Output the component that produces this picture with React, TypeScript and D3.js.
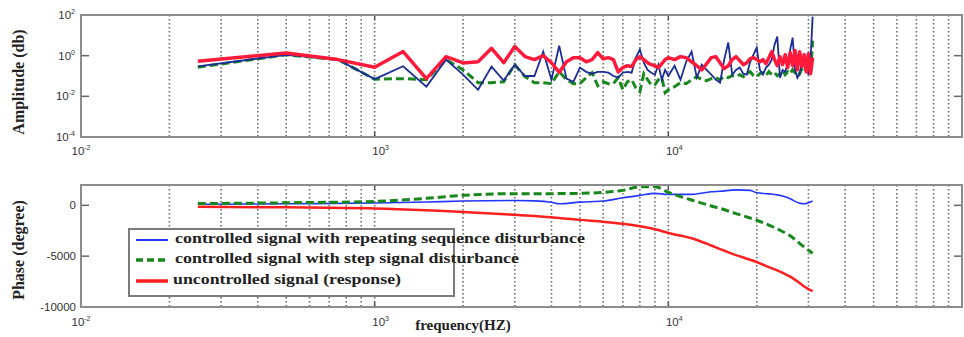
import React, { useEffect, useRef } from 'react';
import * as d3 from 'd3';

// amplitude spectrum, sampled every 250 Hz up to 10 kHz, then every 500 Hz
const ampFreqs = [
  250, 500, 750, 1000, 1250, 1500, 1750, 2000, 2250, 2500,
  2750, 3000, 3250, 3500, 3750, 4000, 4250, 4500, 4750, 5000,
  5250, 5500, 5750, 6000, 6250, 6500, 6750, 7000, 7250, 7500,
  7750, 8000, 8250, 8500, 8750, 9000, 9250, 9500, 9750, 10000,
  10500, 11000, 11500, 12000, 12500, 13000, 13500, 14000, 14500, 15000,
  15500, 16000, 16500, 17000, 17500, 18000, 18500, 19000, 19500, 20000,
  20500, 21000, 21500, 22000, 22500, 23000, 23500, 24000, 24500, 25000,
  25500, 26000, 26500, 27000, 27500, 28000, 28500, 29000, 29500, 30000,
  30500, 31000,
];
const ampRepeating = [
  0.3, 1.1, 0.64, 0.07, 0.3, 0.03, 0.64, 0.116, 0.021, 0.29,
  0.06, 0.36, 0.1, 0.1, 1.57, 0.066, 3.1, 0.074, 0.052, 0.26,
  0.16, 0.13, 0.16, 0.16, 0.145, 0.1, 0.083, 0.145, 0.16, 0.145,
  0.8, 2.0, 0.45, 0.2, 0.145, 0.116, 0.36, 0.066, 0.2, 0.1,
  0.32, 0.066, 0.5, 1.57, 0.083, 0.36, 0.2, 0.116, 0.066, 0.047,
  0.64, 4.4, 0.116, 0.2, 0.26, 0.13, 0.116, 0.5, 1.12, 2.5,
  0.2, 0.116, 0.26, 0.36, 0.64, 3.5, 8.6, 0.083, 0.2, 0.16,
  0.4, 2.0, 7.7, 0.2, 0.083, 0.13, 0.5, 0.8, 0.32, 0.116,
  0.64, 83,
];
const ampStep = [
  0.27, 1.1, 0.64, 0.07, 0.074, 0.066, 0.64, 0.2, 0.047, 0.047,
  0.052, 0.36, 0.093, 0.047, 0.047, 0.042, 0.163, 0.066, 0.042, 0.042,
  0.083, 0.145, 0.033, 0.052, 0.042, 0.042, 0.083, 0.021, 0.052, 0.066,
  0.026, 0.017, 0.13, 0.066, 0.037, 0.037, 0.066, 0.083, 0.015, 0.021,
  0.03, 0.047, 0.042, 0.066, 0.093, 0.066, 0.059, 0.074, 0.083, 0.066,
  0.093, 0.083, 0.104, 0.093, 0.116, 0.093, 0.13, 0.163, 0.104, 0.093,
  0.13, 0.145, 0.104, 0.163, 0.116, 0.145, 0.104, 0.13, 0.18, 0.116,
  0.163, 0.13, 0.205, 0.145, 0.18, 0.13, 0.23, 0.163, 0.26, 0.18,
  0.145, 5.5,
];
const ampUncontrolled = [
  0.53, 1.35, 0.64, 0.27, 1.6, 0.074, 0.89, 0.44, 0.5, 2.3,
  0.45, 2.8, 0.9, 0.64, 1.0, 0.45, 0.15, 0.5, 0.8, 0.8,
  0.5, 0.64, 1.4, 0.7, 0.8, 0.64, 0.16, 0.26, 0.32, 0.29,
  0.64, 0.9, 0.64, 0.45, 0.36, 0.32, 0.26, 0.4, 0.64, 0.8,
  0.64, 0.9, 0.8, 0.5, 0.32, 0.2, 0.4, 0.8, 0.9, 0.45,
  0.23, 0.32, 0.64, 0.9, 0.57, 0.36, 0.45, 0.71, 0.8, 0.64,
  0.5, 0.64, 0.4, 0.8, 1.57, 0.64, 0.32, 0.9, 0.36, 1.12,
  0.26, 1.4, 0.32, 1.8, 0.2, 1.57, 0.29, 1.12, 0.16, 1.25,
  0.13, 0.8,
];

// phase response (degree)
const phaseFreqs = [
  250, 500, 1000, 1500, 2000, 3000, 3500, 4000, 4250, 5000,
  6000, 7000, 8000, 9000, 10000, 12000, 14000, 15000, 17000, 19000,
  20000, 22000, 24000, 25000, 26000, 28000, 29000, 31000,
];
const phaseRepeating = [
  100, 150, 230, 330, 420, 470, 440, 300, 150, 320,
  420, 740, 980, 1180, 1080, 1080, 1330, 1380, 1520, 1470,
  1230, 1130, 980, 850, 640, 200, 150, 420,
];
const phaseStep = [
  170, 250, 390, 690, 980, 1150, 1150, 1150, 1160, 1180,
  1280, 1470, 1820, 1840, 1280, 520, -60, -300, -810, -1250,
  -1470, -1950, -2450, -2720, -3000, -3750, -4100, -4720,
];
const phaseUncontrolled = [
  -150, -200, -300, -480, -660, -930, -1050, -1180, -1240, -1430,
  -1620, -1820, -2060, -2350, -2720, -3240, -3950, -4300, -4900, -5350,
  -5570, -6080, -6520, -6760, -7020, -7650, -7980, -8450,
];

const ampTicks = [100, 1, 0.01, 0.0001];
const ampTickExp = ['2', '0', '-2', '-4'];
const phaseTicks = [0, -5000, -10000];
const freqTicks = [100, 1000, 10000];
const freqTickExp = ['-2', '3', '4'];
const legendLabels = [
  'controlled signal with repeating sequence disturbance',
  'controlled signal with step signal disturbance',
  'uncontrolled signal (response)',
];

const W = 964;
const H = 337;
const L = 81;
const R = 962;
const SERIF = '"Liberation Serif", "DejaVu Serif", serif';
const SANS = '"Liberation Sans", Arial, sans-serif';

const App = () => {
  const ref = useRef<SVGSVGElement>(null);

  useEffect(() => {
    const svg = d3.select(ref.current);
    svg.selectAll('*').remove();

    const x = d3.scaleLog().domain([100, 100000]).range([L, R]);
    const yAmp = d3.scaleLog().domain([0.0001, 100]).range([137, 15]);
    const yPh = d3.scaleLinear().domain([-10000, 2000]).range([307, 185]);

    const gridVals: number[] = [];
    [100, 1000, 10000].forEach(d => {
      for (let k = 2; k <= 9; k++) gridVals.push(d * k);
      if (d > 100) gridVals.push(d);
    });

    const panel = (top: number, bottom: number) => {
      const g = svg.append('g');
      g.append('rect')
        .attr('x', L).attr('y', top)
        .attr('width', R - L).attr('height', bottom - top)
        .attr('fill', 'white');
      g.selectAll('line.grid')
        .data(gridVals)
        .enter()
        .append('line')
        .attr('x1', d => x(d)).attr('x2', d => x(d))
        .attr('y1', top).attr('y2', bottom)
        .attr('stroke', '#6a6a6a')
        .attr('stroke-width', 1.6)
        .attr('stroke-dasharray', '1.6,2.4');
      // decade ticks top & bottom
      [1000, 10000].forEach(v => {
        g.append('line').attr('x1', x(v)).attr('x2', x(v)).attr('y1', top).attr('y2', top + 5)
          .attr('stroke', '#555').attr('stroke-width', 1.5);
        g.append('line').attr('x1', x(v)).attr('x2', x(v)).attr('y1', bottom).attr('y2', bottom - 5)
          .attr('stroke', '#555').attr('stroke-width', 1.5);
      });
      return g;
    };

    const frame = (top: number, bottom: number) => {
      svg.append('rect')
        .attr('x', L).attr('y', top)
        .attr('width', R - L).attr('height', bottom - top)
        .attr('fill', 'none')
        .attr('stroke', '#8c8c8c')
        .attr('stroke-width', 2);
    };

    const xLabels = (yPos: number) => {
      freqTicks.forEach((v, i) => {
        const t = svg.append('text')
          .attr('x', x(v) + (i === 0 ? 0 : 6))
          .attr('y', yPos)
          .attr('text-anchor', 'middle')
          .style('font-family', SANS)
          .style('font-size', '11.5px')
          .style('fill', '#333');
        t.append('tspan').text('10');
        t.append('tspan').attr('dy', -5).style('font-size', '7px').text(freqTickExp[i]);
      });
    };

    // ---------- amplitude panel ----------
    panel(15, 137);
    ampTicks.forEach((v, i) => {
      svg.append('line').attr('x1', L).attr('x2', L + 8).attr('y1', yAmp(v)).attr('y2', yAmp(v))
        .attr('stroke', '#666').attr('stroke-width', 1.5);
      svg.append('line').attr('x1', R).attr('x2', R - 8).attr('y1', yAmp(v)).attr('y2', yAmp(v))
        .attr('stroke', '#666').attr('stroke-width', 1.5);
      const t = svg.append('text')
        .attr('x', 75).attr('y', yAmp(v) + 4)
        .attr('text-anchor', 'end')
        .style('font-family', SANS)
        .style('font-size', '11.5px')
        .style('fill', '#333');
      t.append('tspan').text('10');
      t.append('tspan').attr('dy', -5).style('font-size', '7px').text(ampTickExp[i]);
    });

    const ampLine = (vals: number[]) =>
      d3.line<number>().x((_, i) => x(ampFreqs[i])).y(d => yAmp(d))(vals);

    svg.append('path').attr('d', ampLine(ampStep)).attr('fill', 'none')
      .attr('stroke', '#18871c').attr('stroke-width', 3).attr('stroke-dasharray', '8,4');
    svg.append('path').attr('d', ampLine(ampRepeating)).attr('fill', 'none')
      .attr('stroke', '#1c2d96').attr('stroke-width', 1.8);
    svg.append('path').attr('d', ampLine(ampUncontrolled)).attr('fill', 'none')
      .attr('stroke', '#ff1a3c').attr('stroke-width', 3.5).attr('stroke-linejoin', 'round');
    frame(15, 137);
    xLabels(155);

    // ---------- phase panel ----------
    panel(185, 307);
    phaseTicks.forEach(v => {
      svg.append('line').attr('x1', L).attr('x2', L + 8).attr('y1', yPh(v)).attr('y2', yPh(v))
        .attr('stroke', '#666').attr('stroke-width', 1.5);
      svg.append('line').attr('x1', R).attr('x2', R - 8).attr('y1', yPh(v)).attr('y2', yPh(v))
        .attr('stroke', '#666').attr('stroke-width', 1.5);
      svg.append('text')
        .attr('x', 76).attr('y', yPh(v) + 4)
        .attr('text-anchor', 'end')
        .style('font-family', SANS)
        .style('font-size', '11.5px')
        .style('fill', '#333')
        .text(v);
    });

    const phLine = (vals: number[]) =>
      d3.line<number>()
        .x((_, i) => x(phaseFreqs[i]))
        .y(d => yPh(d))
        .curve(d3.curveMonotoneX)(vals);

    svg.append('path').attr('d', phLine(phaseUncontrolled)).attr('fill', 'none')
      .attr('stroke', '#ff1f1f').attr('stroke-width', 2.5);
    svg.append('path').attr('d', phLine(phaseRepeating)).attr('fill', 'none')
      .attr('stroke', '#2236ff').attr('stroke-width', 1.6);
    svg.append('path').attr('d', phLine(phaseStep)).attr('fill', 'none')
      .attr('stroke', '#18871c').attr('stroke-width', 3).attr('stroke-dasharray', '8,4');
    frame(185, 307);
    xLabels(326);

    // legend
    const leg = svg.append('g');
    leg.append('rect')
      .attr('x', 129).attr('y', 229).attr('width', 325).attr('height', 67)
      .attr('fill', 'white').attr('stroke', '#7c7c7c').attr('stroke-width', 2);
    const legStyles = [
      { color: '#2236ff', width: 2, dash: null, y: 240, tx: 175, len: 410 },
      { color: '#18871c', width: 3.5, dash: '7,4', y: 260, tx: 175, len: 344 },
      { color: '#ff1f1f', width: 3.5, dash: null, y: 281, tx: 173, len: 228 },
    ];
    legendLabels.forEach((lab, i) => {
      const s = legStyles[i];
      leg.append('line').attr('x1', 136).attr('x2', 168).attr('y1', s.y).attr('y2', s.y)
        .attr('stroke', s.color).attr('stroke-width', s.width)
        .attr('stroke-dasharray', s.dash);
      leg.append('text')
        .attr('x', s.tx).attr('y', s.y + 3)
        .attr('textLength', s.len)
        .attr('lengthAdjust', 'spacingAndGlyphs')
        .style('font-family', SERIF)
        .style('font-weight', 'bold')
        .style('font-size', '15px')
        .style('fill', '#222')
        .text(lab);
    });

    // axis titles
    svg.append('text')
      .attr('transform', 'translate(24, 82) rotate(-90)')
      .attr('text-anchor', 'middle')
      .style('font-family', SERIF).style('font-weight', 'bold').style('font-size', '16px')
      .style('fill', '#222')
      .text('Amplitude (db)');
    svg.append('text')
      .attr('transform', 'translate(24, 250) rotate(-90)')
      .attr('text-anchor', 'middle')
      .style('font-family', SERIF).style('font-weight', 'bold').style('font-size', '16px')
      .style('fill', '#222')
      .text('Phase (degree)');
    svg.append('text')
      .attr('x', 463).attr('y', 330)
      .attr('text-anchor', 'middle')
      .style('font-family', SERIF).style('font-weight', 'bold').style('font-size', '15px')
      .style('fill', '#222')
      .text('frequency(HZ)');
  }, []);

  return (
    <svg
      ref={ref}
      width={W}
      height={H}
      style={{ position: 'absolute', left: 0, top: 0, background: 'white' }}
    />
  );
};

export default App;
